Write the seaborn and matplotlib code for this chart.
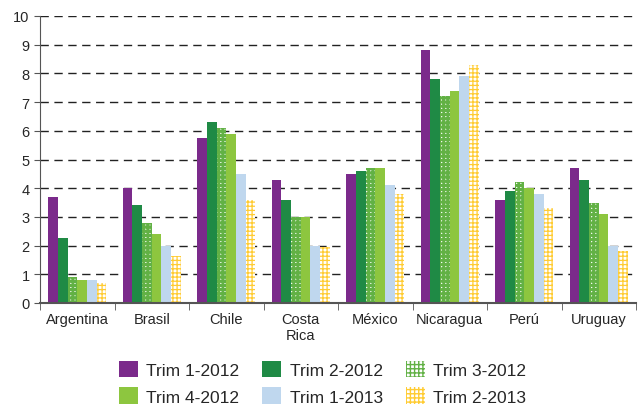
import pandas as pd
import matplotlib
matplotlib.use("Agg")
import matplotlib.pyplot as plt
from matplotlib.patches import Patch
from matplotlib.ticker import FixedLocator
import seaborn as sns

# Values
countries = ["Argentina", "Brasil", "Chile", "Costa\nRica", "México",
             "Nicaragua", "Perú", "Uruguay"]
series = ["Trim 1-2012", "Trim 2-2012", "Trim 3-2012",
          "Trim 4-2012", "Trim 1-2013", "Trim 2-2013"]
trim1_2012 = [3.7, 4.0, 5.75, 4.3, 4.5, 8.8, 3.6, 4.7]
trim2_2012 = [2.25, 3.4, 6.3, 3.6, 4.6, 7.8, 3.9, 4.3]
trim3_2012 = [0.9, 2.8, 6.1, 3.0, 4.7, 7.2, 4.2, 3.5]
trim4_2012 = [0.8, 2.4, 5.9, 3.0, 4.7, 7.4, 4.0, 3.1]
trim1_2013 = [0.8, 2.0, 4.5, 2.0, 4.1, 7.9, 3.8, 2.0]
trim2_2013 = [0.7, 1.65, 3.6, 1.95, 3.8, 8.3, 3.3, 1.8]

colors = ["#7b2a8b", "#1f8a45", "#62b145", "#8dc63f", "#bfd7ee", "#ffcc33"]
# series drawn as white cells inside a coloured grid: (hatch, hatch line width)
hatched = {2: ("++++", 2.1), 5: ("++++", 0.9)}

values = [trim1_2012, trim2_2012, trim3_2012, trim4_2012, trim1_2013, trim2_2013]
rows = []
for s, vals in zip(series, values):
    for c, v in zip(countries, vals):
        rows.append({"País": c, "Serie": s, "Valor": v})
df = pd.DataFrame(rows)

sns.set_style("white")
plt.rcParams["font.family"] = ["Liberation Sans", "DejaVu Sans"]


def style_hatch(patch, i):
    hatch, lw = hatched[i]
    patch.set_facecolor("white")
    patch.set_edgecolor(colors[i])
    patch.set_linewidth(0)
    patch.set_hatch(hatch)
    if hasattr(patch, "set_hatch_linewidth"):
        patch.set_hatch_linewidth(lw)
    else:
        patch._hatch_linewidth = lw


fig = plt.figure(figsize=(6.44, 4.06), dpi=100)
ax = fig.add_axes([40 / 644, 102 / 406, 596 / 644, 287 / 406])

sns.barplot(data=df, x="País", y="Valor", hue="Serie", palette=colors,
            saturation=1, width=0.78, gap=0, legend=False, ax=ax)

for i, cont in enumerate(ax.containers):
    for bar in cont:
        bar.set_linewidth(0)
        if i in hatched:
            style_hatch(bar, i)

ax.set_xlim(-0.5, 7.5)
ax.set_ylim(0, 10)
ax.set_yticks(range(0, 11))
ax.set_xlabel("")
ax.set_ylabel("")
ax.yaxis.grid(True, linestyle=(0, (6, 4)), color="#222222", linewidth=1)
ax.set_axisbelow(True)

for side in ["top", "right"]:
    ax.spines[side].set_visible(False)
ax.spines["left"].set_color("#555555")
ax.spines["bottom"].set_color("#555555")
ax.spines["bottom"].set_linewidth(1.5)

ax.tick_params(axis="y", left=True, length=4, color="#555555", labelsize=10.5)
ax.tick_params(axis="x", bottom=False, labelsize=10.5, pad=3)
ax.xaxis.set_minor_locator(FixedLocator([i + 0.5 for i in range(-1, 8)]))
ax.tick_params(axis="x", which="minor", bottom=True, length=5, color="#555555")

# legend, rows filled left to right
handles = []
for i, s in enumerate(series):
    h = Patch(facecolor=colors[i], linewidth=0, label=s)
    if i in hatched:
        style_hatch(h, i)
    handles.append(h)
order = [0, 3, 1, 4, 2, 5]
fig.legend([handles[i] for i in order], [series[i] for i in order],
           ncol=3, frameon=False, fontsize=12.5,
           loc="upper left", bbox_to_anchor=(103 / 644, 1 - 346 / 406),
           handlelength=1.1, handleheight=1.1, handletextpad=0.5,
           columnspacing=1.3, labelspacing=0.55)

fig.savefig("out.png", dpi=100)
